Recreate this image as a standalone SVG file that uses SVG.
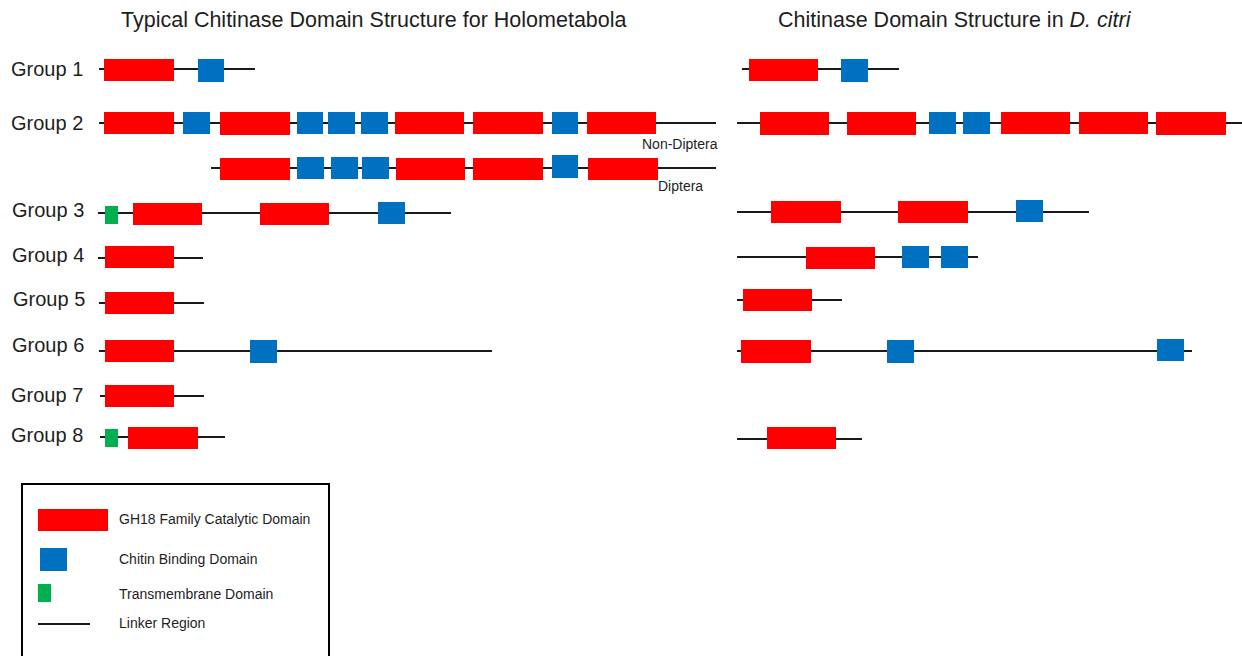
<svg xmlns="http://www.w3.org/2000/svg" width="1242" height="656" viewBox="0 0 1242 656">
<style>
text{font-family:"Liberation Sans",Arial,sans-serif;fill:#1e1e1e}
.title{font-size:21.5px}
.lab{font-size:20px}
.small{font-size:14px}
.cat{fill:#ff0000}
.cbd{fill:#0070c0}
.tm{fill:#00b050}
.ln{stroke:#1a1a1a;stroke-width:2;fill:none}
</style>
<rect width="1242" height="656" fill="#ffffff"/>
<text class="title" x="121" y="27">Typical Chitinase Domain Structure for Holometabola</text>
<text class="title" x="778" y="27">Chitinase Domain Structure in <tspan font-style="italic">D. citri</tspan></text>

<g id="connectors">
<line class="ln" x1="99" y1="69" x2="255" y2="69"/>
<line class="ln" x1="99" y1="123" x2="716" y2="123"/>
<line class="ln" x1="211" y1="168" x2="716" y2="168"/>
<line class="ln" x1="98" y1="213" x2="451" y2="213"/>
<line class="ln" x1="98" y1="258" x2="203" y2="258"/>
<line class="ln" x1="99" y1="303" x2="204" y2="303"/>
<line class="ln" x1="99" y1="351" x2="492" y2="351"/>
<line class="ln" x1="100" y1="396" x2="204" y2="396"/>
<line class="ln" x1="100" y1="437" x2="225" y2="437"/>
<line class="ln" x1="742" y1="69" x2="899" y2="69"/>
<line class="ln" x1="737" y1="123" x2="1242" y2="123"/>
<line class="ln" x1="737" y1="212" x2="1089" y2="212"/>
<line class="ln" x1="737" y1="257" x2="978" y2="257"/>
<line class="ln" x1="737" y1="300" x2="842" y2="300"/>
<line class="ln" x1="737" y1="351" x2="1192" y2="351"/>
<line class="ln" x1="737" y1="439" x2="862" y2="439"/>
</g>

<g id="holo-group1">
<text class="lab" x="11" y="76">Group 1</text>
<rect class="cat" x="104" y="59" width="70" height="22"/>
<rect class="cbd" x="198" y="59" width="26" height="23"/>
</g>
<g id="holo-group2-nondiptera">
<text class="lab" x="11" y="130">Group 2</text>
<rect class="cat" x="104" y="112" width="70" height="22"/>
<rect class="cbd" x="183" y="112" width="27" height="22"/>
<rect class="cat" x="220" y="112" width="70" height="23"/>
<rect class="cbd" x="297" y="112" width="26" height="22"/>
<rect class="cbd" x="328" y="112" width="27" height="22"/>
<rect class="cbd" x="361" y="112" width="27" height="22"/>
<rect class="cat" x="395" y="112" width="69" height="22"/>
<rect class="cat" x="473" y="112" width="70" height="22"/>
<rect class="cbd" x="552" y="112" width="26" height="22"/>
<rect class="cat" x="587" y="112" width="69" height="22"/>
<text class="small" x="642" y="149">Non-Diptera</text>
</g>
<g id="holo-group2-diptera">
<rect class="cat" x="220" y="158" width="70" height="22"/>
<rect class="cbd" x="297" y="157" width="27" height="22"/>
<rect class="cbd" x="331" y="157" width="27" height="22"/>
<rect class="cbd" x="362" y="157" width="27" height="22"/>
<rect class="cat" x="396" y="158" width="69" height="22"/>
<rect class="cat" x="473" y="158" width="70" height="22"/>
<rect class="cbd" x="552" y="155" width="26" height="23"/>
<rect class="cat" x="588" y="158" width="70" height="22"/>
<text class="small" x="658" y="191">Diptera</text>
</g>
<g id="holo-group3">
<text class="lab" x="12" y="217">Group 3</text>
<rect class="tm" x="105" y="206" width="13" height="18"/>
<rect class="cat" x="133" y="203" width="69" height="22"/>
<rect class="cat" x="260" y="203" width="69" height="22"/>
<rect class="cbd" x="378" y="202" width="27" height="22"/>
</g>
<g id="holo-group4">
<text class="lab" x="12" y="262">Group 4</text>
<rect class="cat" x="105" y="246" width="69" height="22"/>
</g>
<g id="holo-group5">
<text class="lab" x="13" y="306">Group 5</text>
<rect class="cat" x="105" y="292" width="69" height="22"/>
</g>
<g id="holo-group6">
<text class="lab" x="12" y="352">Group 6</text>
<rect class="cat" x="105" y="340" width="69" height="22"/>
<rect class="cbd" x="250" y="340" width="27" height="23"/>
</g>
<g id="holo-group7">
<text class="lab" x="11" y="402">Group 7</text>
<rect class="cat" x="105" y="385" width="69" height="22"/>
</g>
<g id="holo-group8">
<text class="lab" x="11" y="442">Group 8</text>
<rect class="tm" x="105" y="429" width="13" height="18"/>
<rect class="cat" x="128" y="427" width="70" height="22"/>
</g>

<g id="dcitri-group1">
<rect class="cat" x="749" y="59" width="69" height="22"/>
<rect class="cbd" x="841" y="59" width="27" height="23"/>
</g>
<g id="dcitri-group2">
<rect class="cat" x="760" y="112" width="69" height="23"/>
<rect class="cat" x="847" y="112" width="69" height="23"/>
<rect class="cbd" x="929" y="112" width="27" height="22"/>
<rect class="cbd" x="963" y="112" width="27" height="22"/>
<rect class="cat" x="1001" y="112" width="69" height="22"/>
<rect class="cat" x="1079" y="112" width="69" height="22"/>
<rect class="cat" x="1156" y="112" width="70" height="23"/>
</g>
<g id="dcitri-group3">
<rect class="cat" x="771" y="201" width="70" height="22"/>
<rect class="cat" x="898" y="201" width="70" height="22"/>
<rect class="cbd" x="1016" y="200" width="27" height="22"/>
</g>
<g id="dcitri-group4">
<rect class="cat" x="806" y="247" width="69" height="22"/>
<rect class="cbd" x="902" y="246" width="27" height="22"/>
<rect class="cbd" x="941" y="246" width="27" height="22"/>
</g>
<g id="dcitri-group5">
<rect class="cat" x="743" y="289" width="69" height="22"/>
</g>
<g id="dcitri-group6">
<rect class="cat" x="741" y="340" width="70" height="23"/>
<rect class="cbd" x="887" y="340" width="27" height="23"/>
<rect class="cbd" x="1157" y="339" width="27" height="22"/>
</g>
<g id="dcitri-group8">
<rect class="cat" x="767" y="427" width="69" height="22"/>
</g>

<g id="legend">
<rect x="22" y="484" width="307" height="200" fill="none" stroke="#000" stroke-width="2"/>
<rect class="cat" x="38" y="509" width="70" height="22"/>
<text class="small" x="119" y="524">GH18 Family Catalytic Domain</text>
<rect class="cbd" x="40" y="548" width="27" height="23"/>
<text class="small" x="119" y="564">Chitin Binding Domain</text>
<rect class="tm" x="38" y="584" width="13" height="18"/>
<text class="small" x="119" y="599">Transmembrane Domain</text>
<line class="ln" x1="38" y1="624" x2="90" y2="624"/>
<text class="small" x="119" y="628">Linker Region</text>
</g>
</svg>
